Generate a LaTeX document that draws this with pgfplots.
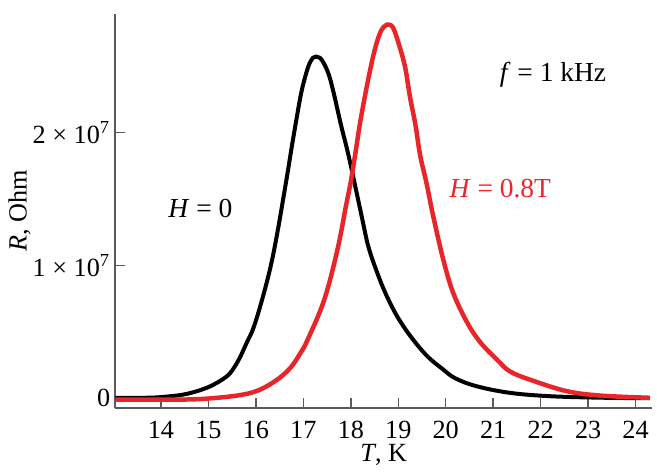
\documentclass[border=0pt]{standalone}
\usepackage{fontspec}
\setmainfont{Liberation Serif}
\usepackage{pgfplots}
\pgfplotsset{compat=1.18}
\definecolor{curvered}{RGB}{232,38,42}
\definecolor{axisgray}{RGB}{90,90,90}
\begin{document}
\begin{tikzpicture}
\begin{axis}[
  scale only axis, width=215pt, height=158pt,
  xmin=13.04, xmax=24.35, ymin=-0.077e7, ymax=2.89e7,
  axis lines=left, axis line style={-, axisgray, line width=0.8pt},
  tick align=inside, major tick length=4pt,
  tick style={axisgray, line width=0.6pt},
  xtick={14,...,24},
  ytick={0,1e7,2e7},
  yticklabels={0, 1 × 10\textsuperscript{7}, 2 × 10\textsuperscript{7}},
  scaled y ticks=false,
  /pgf/number format/assume math mode=true,
  ticklabel style={font=\fontsize{10.5}{12}\selectfont},
  xticklabel style={yshift=-1.5pt},
  yticklabel style={xshift=1.5pt},
  label style={font=\fontsize{10.5}{12}\selectfont},
  xlabel={\textit{T}, K}, ylabel={\textit{R}, Ohm},
  xlabel style={yshift=4.5pt},
  ylabel style={yshift=-6pt},
  clip=false,
]
% H = 0
\addplot[black, line width=1.6pt, smooth, tension=0.6, line join=round] coordinates {
(13.04,0.003e7) (13.78,0.004e7) (14.2,0.015e7) (14.48,0.028e7) (14.76,0.053e7)
(15.04,0.09e7) (15.29,0.14e7) (15.46,0.19e7) (15.64,0.29e7) (15.81,0.42e7)
(15.95,0.53e7) (16.13,0.74e7) (16.31,0.99e7) (16.45,1.24e7) (16.59,1.53e7)
(16.67,1.70e7) (16.76,1.90e7) (16.87,2.13e7) (16.94,2.27e7) (17.01,2.38e7)
(17.11,2.50e7) (17.2,2.56e7) (17.27,2.57e7) (17.35,2.56e7) (17.43,2.52e7)
(17.54,2.43e7) (17.65,2.28e7) (17.79,2.06e7) (17.93,1.86e7) (18.03,1.70e7)
(18.12,1.55e7) (18.24,1.35e7) (18.37,1.14e7) (18.55,0.95e7) (18.73,0.79e7)
(18.97,0.62e7) (19.25,0.47e7) (19.6,0.32e7) (19.95,0.215e7) (20.2,0.15e7)
(20.65,0.09e7) (21.36,0.04e7) (22.2,0.015e7) (23.25,0.004e7) (24.3,0.0e7)
};
% H = 0.8 T
\addplot[curvered, line width=1.8pt, smooth, tension=0.6, line join=round] coordinates {
(13.04,-0.01e7) (14.5,-0.01e7) (15.18,0.003e7) (15.74,0.028e7) (16.09,0.065e7)
(16.45,0.14e7) (16.73,0.23e7) (16.94,0.34e7) (17.09,0.44e7) (17.44,0.74e7)
(17.72,1.12e7) (17.9,1.45e7) (18.0,1.63e7) (18.10,1.85e7) (18.20,2.08e7)
(18.34,2.35e7) (18.49,2.60e7) (18.62,2.75e7) (18.72,2.80e7) (18.80,2.81e7)
(18.9,2.78e7) (19.04,2.63e7) (19.15,2.48e7) (19.25,2.26e7) (19.36,2.06e7)
(19.46,1.83e7) (19.6,1.61e7) (19.73,1.38e7) (19.95,1.04e7) (20.16,0.79e7)
(20.45,0.57e7) (20.73,0.42e7) (21.08,0.29e7) (21.36,0.20e7) (21.85,0.13e7)
(22.55,0.053e7) (23.25,0.02e7) (24.3,0.003e7)
};
\node[font=\fontsize{11}{13}\selectfont] at (axis cs:14.83,1.43e7) {\textit{H} = 0};
\node[font=\fontsize{11}{13}\selectfont, text=curvered] at (axis cs:21.15,1.58e7) {\textit{H} = 0.8T};
\node[font=\fontsize{11}{13}\selectfont] at (axis cs:22.26,2.43e7) {\textit{f} = 1 kHz};
\end{axis}
\path ([yshift=5.6pt]current axis.north west);
\end{tikzpicture}
\end{document}
